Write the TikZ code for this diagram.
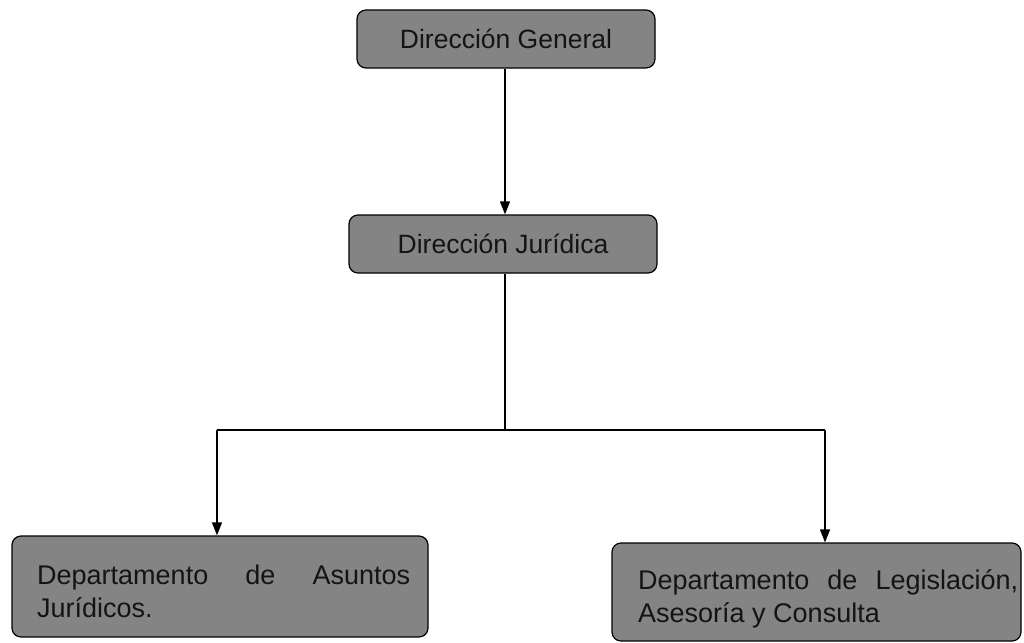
\documentclass[tikz,border=0pt]{standalone}
\usepackage{fontspec}
\setmainfont{Liberation Sans}
\usetikzlibrary{arrows.meta}
\definecolor{boxgray}{RGB}{132,132,132}
\definecolor{txtgray}{RGB}{20,20,20}
\newcommand{\mynohyph}{\hyphenpenalty=10000\relax\exhyphenpenalty=10000\relax}
\begin{document}
\begin{tikzpicture}[x=1pt,y=-1pt,
  orgbox/.style={draw=black, line width=1.2pt, fill=boxgray, rounded corners=9pt, text=txtgray},
  boxtext/.style={text=txtgray, inner sep=0pt, align=justify, font=\fontsize{27}{33}\selectfont\mynohyph},
  conn/.style={line width=1.3pt, draw=black},
  arr/.style={conn, -{Triangle[length=13pt,width=10pt]}}]
\useasboundingbox (0,0) rectangle (1024,642);
\node[orgbox, minimum width=298pt, minimum height=58pt, font=\fontsize{26.5}{30}\selectfont] (dg) at (506,39) {Dirección General};
\node[orgbox, minimum width=308pt, minimum height=58pt, font=\fontsize{26.5}{30}\selectfont] (dj) at (503,244) {Dirección Jurídica};
\node[orgbox, minimum width=416pt, minimum height=101pt] (dl) at (220,586.5) {};
\node[orgbox, minimum width=409pt, minimum height=98pt] (dr) at (816.5,592) {};
\node[boxtext, text width=373pt, anchor=west] (dlt) at (37,591) {Departamento de Asuntos Jurídicos.};
\node[boxtext, text width=380pt, anchor=west] (drt) at (638,599) {Departamento de Legislación, Asesoría y Consulta};
\coordinate (j) at (505,430);
\coordinate (jl) at (217,430);
\coordinate (jr) at (825,430);
\draw[arr] (dg.south -| j) -- (dj.north -| j);
\draw[conn] (dj.south -| j) -- (j);
\draw[conn] (jl) -- (jr);
\draw[arr] (jl) -- (jl |- dl.north);
\draw[arr] (jr) -- (jr |- dr.north);
\end{tikzpicture}
\end{document}
